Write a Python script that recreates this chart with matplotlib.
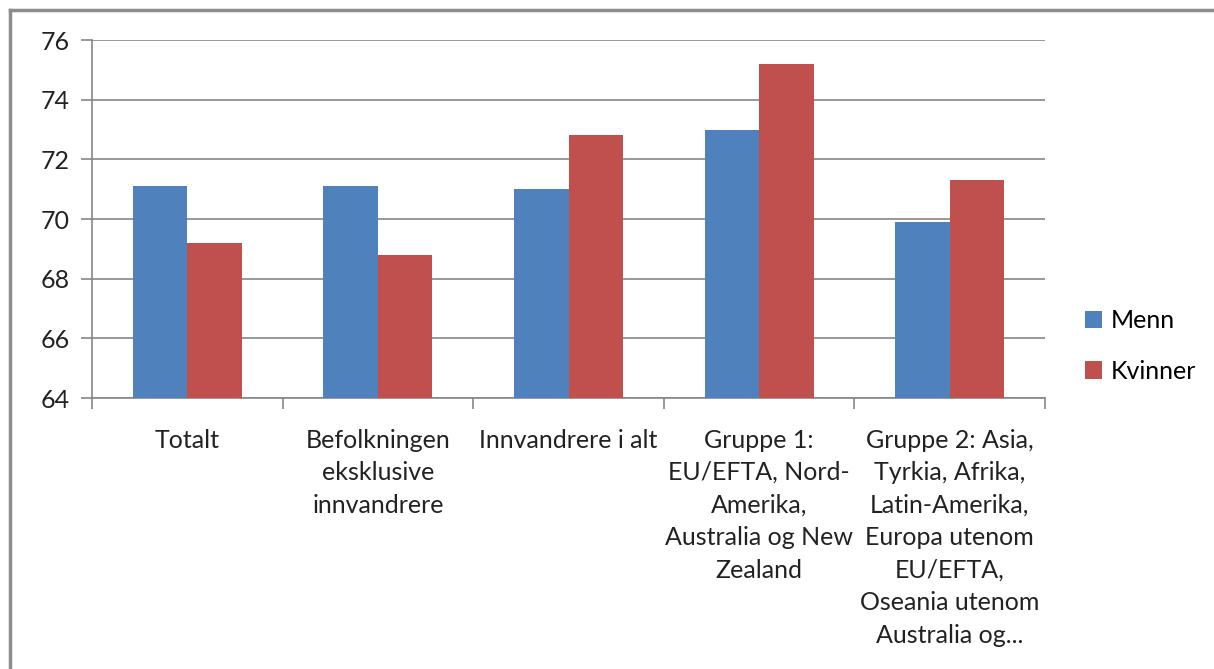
import numpy as np
from matplotlib import pyplot as plt
from matplotlib.lines import Line2D


categories = [
    "Totalt",
    "Befolkningen\neksklusive\ninnvandrere",
    "Innvandrere i alt",
    "Gruppe 1:\nEU/EFTA, Nord-\nAmerika,\nAustralia og New\nZealand",
    "Gruppe 2: Asia,\nTyrkia, Afrika,\nLatin-Amerika,\nEuropa utenom\nEU/EFTA,\nOseania utenom\nAustralia og...",
]
menn = [71.1, 71.1, 71.0, 73.0, 69.9]
kvinner = [69.2, 68.8, 72.8, 75.2, 71.3]
yticks = [64, 66, 68, 70, 72, 74, 76]

plt.rcParams['font.family'] = ['Lato', 'DejaVu Sans']

W, H = 1214, 669
fig = plt.figure(figsize=(W / 100, H / 100), dpi=100)
ax = fig.add_axes([92 / W, 1 - 398 / H, (1045 - 92) / W, (398 - 40) / H])

x = np.arange(len(categories))
bw = 0.286
ax.bar(x - bw / 2, [v - 64 for v in menn], bw, bottom=64, color="#4F81BD", label="Menn", zorder=3)
ax.bar(x + bw / 2, [v - 64 for v in kvinner], bw, bottom=64, color="#C0504D", label="Kvinner", zorder=3)

ax.set_ylim(64, 76)
ax.set_xlim(-0.5, len(categories) - 0.5)
ax.set_yticks(yticks)
ax.set_yticklabels([str(t) for t in yticks], fontsize=18, color="#222222")
ax.yaxis.grid(True, color="#868686", linewidth=1.2, zorder=0)

# category boundaries as ticks, labels in the middle
ax.set_xticks(np.arange(len(categories) + 1) - 0.5)
ax.set_xticklabels([])
ax.set_xticks(x, minor=True)
ax.set_xticklabels(categories, minor=True, fontsize=18, color="#222222", linespacing=1.5, va="top")
ax.tick_params(axis="x", which="minor", length=0, pad=22)
ax.tick_params(axis="x", which="major", length=8, color="#868686", width=1.2)
ax.tick_params(axis="y", length=8, color="#868686", width=1.2, pad=8)

for s in ["top", "right"]:
    ax.spines[s].set_visible(False)
for s in ["left", "bottom"]:
    ax.spines[s].set_color("#868686")
    ax.spines[s].set_linewidth(1.2)

fig.legend(loc="center left", bbox_to_anchor=(1062 / W, 1 - 346 / H), frameon=False,
           fontsize=18, handlelength=0.7, handleheight=0.7, labelspacing=1.1, handletextpad=0.35)

# outer border (top and left only)
fig.add_artist(Line2D([10 / W, 1], [1 - 10 / H, 1 - 10 / H], color="#8c8c8c", linewidth=2.5))
fig.add_artist(Line2D([10 / W, 10 / W], [0, 1 - 10 / H], color="#8c8c8c", linewidth=2.5))

fig.savefig("out.png", dpi=100)
